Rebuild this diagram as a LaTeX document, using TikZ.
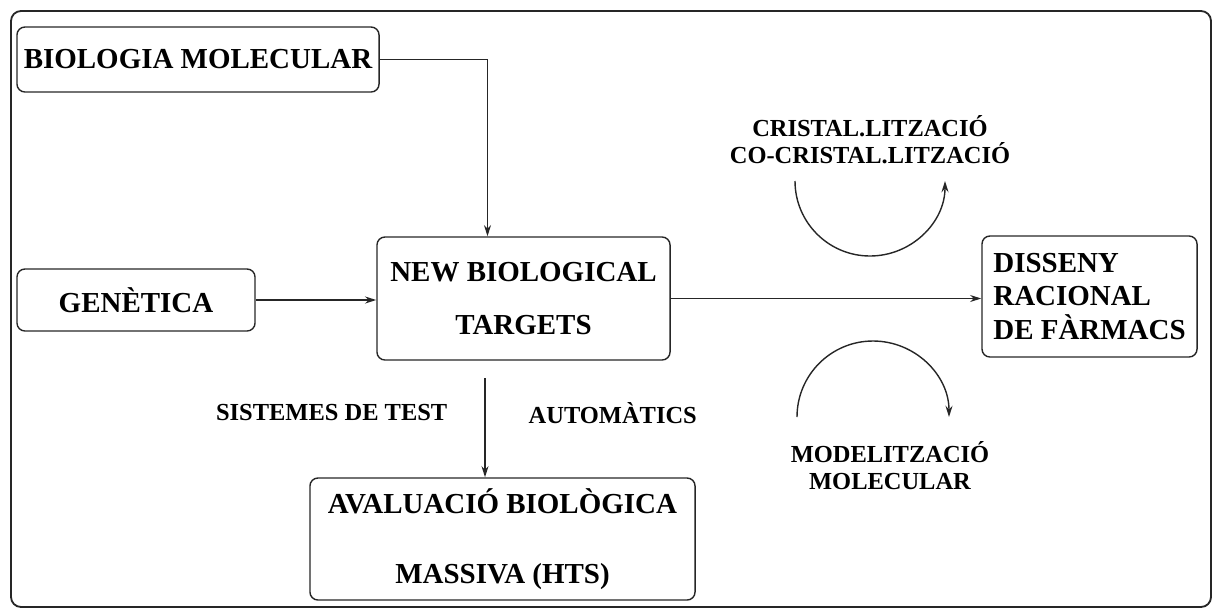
\documentclass[tikz,border=0pt]{standalone}
\usepackage{fontspec}
\setmainfont{Liberation Serif}
\usetikzlibrary{arrows.meta}
\tikzset{
  caixa/.style = {
    rectangle,
    rounded corners=0.2cm,
    draw=black!85,
    line width=1pt,
    inner sep=0pt,
    align=center,
    font=\bfseries\fontsize{20.6}{37.7}\selectfont
  },
  etiqueta/.style = {
    inner sep=0pt,
    align=center,
    text=black,
    font=\bfseries\fontsize{17.4}{19.2}\selectfont
  },
  marc/.style = {
    draw=black!85,
    line width=1.3pt,
    rounded corners=0.25cm
  },
  flow/.style = {
    line width=1pt,
    ->,
    >={Stealth[length=8pt,width=5pt]},
    black!85
  }
}

\begin{document}
\begin{tikzpicture}[x=0.025cm, y=-0.025cm]

\useasboundingbox (0,0) rectangle (1214,613);

% Marc
\draw[marc] (11,11) rectangle (1211,607);

% Caixes
\node[caixa, minimum width=9.05cm, minimum height=1.625cm] (biomol) at (198,59.5) {BIOLOGIA MOLECULAR};
\node[caixa, minimum width=5.95cm, minimum height=1.55cm] (genetica) at (136,300) {GENÈTICA};
\node[caixa, minimum width=7.325cm, minimum height=3.075cm] (newbio) at (523.5,298.5) {NEW BIOLOGICAL\\TARGETS};
\node[caixa, minimum width=5.375cm, minimum height=3.025cm, align=left,
      font=\bfseries\fontsize{20.6}{23.5}\selectfont] (disseny) at (1089.5,296.5) {DISSENY\\RACIONAL\\DE FÀRMACS};
\node[caixa, minimum width=9.625cm, minimum height=3.05cm,
      font=\bfseries\fontsize{20.6}{49.8}\selectfont] (avaluacio) at (502.5,539) {AVALUACIÓ BIOLÒGICA\\MASSIVA (HTS)};

% Etiquetes
\node[etiqueta] (cristal) at (870,139.5) {CRISTAL.LITZACIÓ\\CO-CRISTAL.LITZACIÓ};
\node[etiqueta] (modelitzacio) at (890,466) {MODELITZACIÓ\\MOLECULAR};

% Connexions
\draw[flow] (biomol.east) -| ([xshift=-0.9cm]newbio.north);
\draw[flow] (genetica.east) -- (genetica.east -| newbio.west);
\draw[flow] (newbio.east) -- (newbio.east -| disseny.west);

% Sistemes de test
\coordinate (hts) at (485,378);
\draw[flow] (hts) -- (hts |- avaluacio.north)
  node[etiqueta, pos=0.35, left=0.925cm] (sistemes) {SISTEMES DE TEST}
  node[etiqueta, pos=0.35, right=1.075cm] (automatics) {AUTOMÀTICS};

% Cicles
\draw[flow] (795,181) arc[start angle=180, end angle=0, radius=75];
\draw[flow] (797,417) arc[start angle=180, end angle=360, radius=76];

\end{tikzpicture}
\end{document}
